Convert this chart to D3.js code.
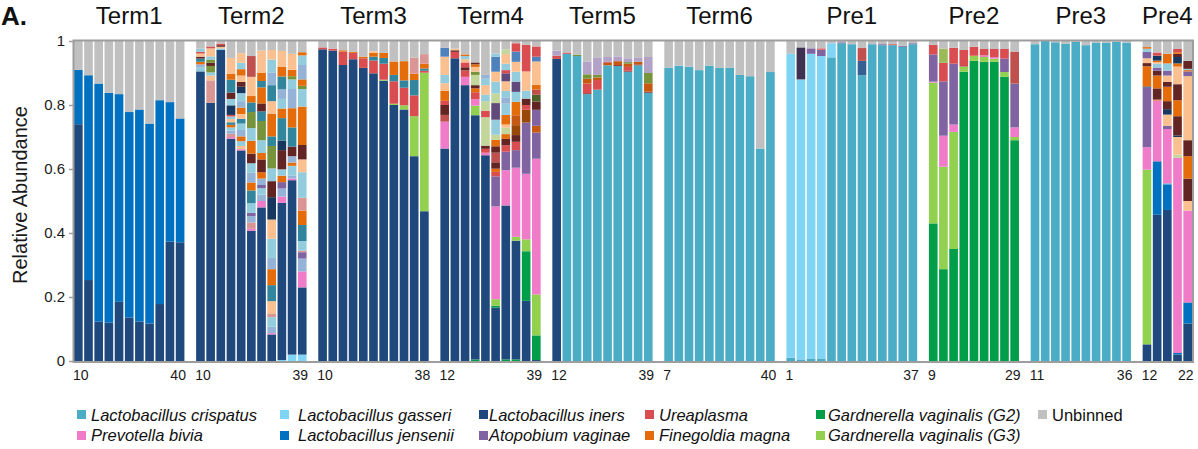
<!DOCTYPE html>
<html>
<head>
<meta charset="utf-8">
<script src="https://cdn.jsdelivr.net/npm/d3@7"></script>
<style>
  body { margin: 0; background: #fff; }
  svg { display: block; font-family: "Liberation Sans", Arial, Helvetica, sans-serif; }
</style>
</head>
<body>
<div id="chart"></div>
<script>
// panels and the sample numbers printed under each one
const panels = ["Term1", "Term2", "Term3", "Term4", "Term5", "Term6", "Pre1", "Pre2", "Pre3", "Pre4"];
const tickFirst = [10, 10, 10, 12, 12, 7, 1, 9, 11, 12];
const tickLast = [40, 39, 38, 39, 39, 40, 37, 29, 36, 22];

// taxa keys and their colours
const taxonKeys = ["cr", "ga", "in", "je", "pk", "pu", "ur", "fi", "g2", "g3",
  "pe", "lb", "st", "td", "ol", "db", "sa", "dn", "li", "lm", "rs", "br",
  "dp", "vp", "mb", "sb", "dg", "rd", "dr", "yg", "un"];
const taxonColors = ["#4bacc6", "#80d5f5", "#1f497d", "#0070c0", "#ef7bc9", "#8064a2", "#d94c50", "#e46c0a", "#009e49", "#92d050",
  "#fac090", "#93cddd", "#95b3d7", "#31859c", "#77933c", "#632523", "#d99694", "#17375e", "#b3a2c7", "#c3d69b", "#c65911", "#984807",
  "#3f3151", "#604a7b", "#4f81bd", "#376092", "#4f6228", "#c0504d", "#953735", "#9bbb59", "#c0c0c0"];

// legend (row 1 then row 2)
const legendKeys = ["cr", "ga", "in", "ur", "g2", "un", "pk", "je", "pu", "fi", "g3"];
const legendLabels = ["Lactobacillus crispatus", "Lactobacillus gasseri", "Lactobacillus iners", "Ureaplasma",
  "Gardnerella vaginalis (G2)", "Unbinned", "Prevotella bivia", "Lactobacillus jensenii", "Atopobium vaginae",
  "Finegoldia magna", "Gardnerella vaginalis (G3)"];

// each bar: taxon / relative abundance pairs from the bottom up, unbinned fills the rest
const term1 = [
  "in .74 je .17", "in .253 je .64", "in .123 je .744", "in .12 je .718", "in .185 je .649", "in .136 je .642",
  "in .123 je .663", "in .117 je .625", "in .178 je .637", "in .373 je .436", "in .371 je .387"];
const term2 = [
  "in .905 lb .012 st .01 fi .008 td .01 db .006 pe .01 ur .005 lb .01",
  "in .807 sa .07 pe .015 lb .01 ol .02 db .01 ol .01 lb .01 pe .025 ur .006",
  "in .972 lb .005 pe .005 db .005 ur .005",
  "in .695 pk .005 sa .01 st .01 lb .01 fi .008 td .008 pe .01 lb .008 ur .005 dn .03 lb .02 db .02 td .04 fi .018 pe .05",
  "in .658 pk .004 pe .01 lb .015 fi .015 st .02 lb .02 td .015 pe .015 fi .02 st .02 lb .025 dn .02 db .015 pe .02 fi .02 lb .02 pe .03",
  "in .407 pk .006 sa .02 st .02 pu .01 lb .03 td .04 fi .025 st .03 lb .03 db .03 fi .04 lb .04 ol .05 td .03 fi .02 pe .06 rd .065",
  "in .48 pk .02 st .02 lb .02 pu .01 st .02 fi .02 db .04 fi .02 lb .04 ol .06 td .03 db .025 fi .05 td .02 fi .025 pe .07",
  "in .083 pk .004 st .02 lb .03 sa .01 pe .04 td .05 fi .05 st .035 lb .06 pe .06 dn .07 db .05 lb .04 ol .07 td .03 fi .07 pe .04 td .05 st .04 lb .04 pe .03",
  "ga .003 in .491 pk .02 st .025 pu .02 fi .02 lb .02 db .06 dn .03 td .07 fi .03 lb .03 st .03 td .04 fi .03 pe .05",
  "ga .02 in .545 pk .005 st .01 lb .03 fi .01 st .02 db .03 td .06 fi .06 st .06 lb .03 ol .01 fi .02 pe .05",
  "ga .02 in .21 pk .05 st .04 pu .02 sa .005 lb .03 td .05 fi .045 sa .04 lb .08 pe .04 db .045 fi .12 lb .055 ol .01 fi .02 st .045 lb .03 fi .01"];
const term3 = [
  "in .974 ur .006", "in .97 ur .006", "in .925 ur .042 fi .004", "in .943 ur .02 fi .003", "in .916 ur .03 fi .005",
  "in .899 ur .04 td .012 fi .012 pe .005",
  "in .876 g3 .003 ur .05 td .018 fi .016",
  "in .80 g3 .004 ur .07 td .02 fi .042",
  "in .786 g3 .013 ur .055 td .023 fi .06",
  "in .64 g3 .125 ur .065 td .048 fi .02 sa .05",
  "in .468 g3 .433 ur .006 td .007 fi .015 sa .03"];
const term4 = [
  "in .664 pk .084 rd .021 db .031 ur .013 fi .032 pe .023 lb .026 pe .057 mb .028",
  "in .946 ur .02 db .005 pe .005",
  "in .862 pk .026 ur .02 db .01 ur .015 pe .01 lb .01 fi .005",
  "g2 .005 in .763 g3 .03 pk .02 ur .022 fi .012 db .01 lm .032 ol .01 pe .015 fi .008 db .006",
  "in .643 pk .008 ur .012 db .01 lm .089 ur .02 lm .03 lb .02 pe .03 lb .02 st .012",
  "in .167 g2 .006 g3 .02 pk .29 pu .094 ur .014 fi .01 db .02 rd .03 db .02 fi .02 lm .016 lb .047 vp .052 lm .03 lb .037 pe .031 mb .047 lb .01",
  "g2 .005 in .481 pk .11 pu .058 ur .02 db .02 fi .015 lm .02 pe .01 fi .03 lb .035 st .02 lb .02 pe .03 vp .025 ur .01 lb .02 pe .03 lm .015",
  "g2 .005 in .371 g3 .012 pk .216 pu .055 ur .026 db .021 br .031 rs .031 fi .042 lb .031 vp .032 lb .031 pe .031 mb .032 ur .026",
  "in .188 g2 .155 g3 .037 pk .205 pu .16 br .04 ur .015 db .02 lb .025 pe .06 ur .083",
  "in .003 g2 .077 g3 .128 pk .424 pu .082 rs .021 pu .05 db .026 dg .021 rd .016 fi .015 pe .073 mb .015 ur .032"];
const term5 = [
  "in .944 ur .01 li .016", "cr .96 ur .004", "cr .953 ol .004",
  "cr .834 dr .003 ur .03 rs .015 ol .014 li .04",
  "cr .848 ur .03 rs .008 ol .008 li .055",
  "cr .924 rs .008 ur .003 li .015",
  "cr .922 dr .003 rs .012 li .015",
  "cr .904 dr .003 ur .012 rs .01 ol .005 li .012",
  "cr .924 dr .003 rs .008 li .014",
  "cr .838 dr .004 rs .026 ol .032 li .05"];
const term6 = [
  "cr .917", "cr .923", "cr .92", "cr .909", "cr .923", "cr .916", "cr .916", "cr .894", "cr .89", "cr .664", "cr .903"];
const pre1 = [
  "cr .01 ga .95", "cr .005 ga .875 dp .10", "cr .008 ga .952 pu .017", "cr .008 ga .945 pu .02 ur .004",
  "cr .949 ga .044", "cr .993 pu .003", "cr .99", "cr .893 sb .045 rd .04", "cr .99", "cr .987 pu .003",
  "cr .987 ur .003", "cr .982 pu .003", "cr .99 pu .003"];
const pre2 = [
  "g2 .43 g3 .44 pk .003 pu .085 ur .03",
  "g2 .287 g3 .32 pk .097 pu .17 ur .058 yg .044",
  "g2 .35 g3 .366 pk .023 pu .19 ur .05",
  "g2 .904 g3 .016 rd .005 ur .047",
  "g2 .938 g3 .016 ur .028",
  "g2 .935 g3 .015 pk .005 ur .02",
  "g2 .935 g3 .01 pk .005 ur .025",
  "g2 .888 g3 .015 pu .042 ur .03",
  "g2 .69 g3 .01 pk .03 pu .137 rd .1"];
const pre3 = [
  "cr .99", "cr 1", "cr .996", "cr .992", "cr .997", "cr .987", "cr .995", "cr .995", "cr .998", "cr .995"];
const pre4 = [
  "in .052 g3 .546 pk .07 pu .187 dn .003 fi .063 db .01 pe .015 pu .02 lb .01 fi .005",
  "in .457 je .167 pk .19 fi .003 db .035 fi .04 db .015 pu .01 lb .012 pe .005 fi .005 dn .015 ur .01",
  "in .472 je .08 cr .003 pk .17 pu .01 pe .035 dn .017 db .025 fi .045 db .015 pe .02 pu .015 lb .023 fi .03",
  "in .02 je .005 pk .61 lm .01 pe .055 dn .005 db .06 fi .05 db .05 pe .055 fi .01 dn .02 db .01 fi .005 ur .01",
  "in .117 je .066 pk .287 pe .03 db .07 fi .07 db .05 pe .2 pu .015 fi .004 lb .004 db .025"];

const panelBars = [term1, term2, term3, term4, term5, term6, pre1, pre2, pre3, pre4];

const color = d3.scaleOrdinal().domain(taxonKeys).range(taxonColors);

const svg = d3.select("#chart").append("svg")
  .attr("width", 1198)
  .attr("height", 449);

// one band per bar, plus an empty band between panels
const slots = [];
panels.forEach((p, pi) => {
  panelBars[pi].forEach((b, bi) => slots.push(p + "-" + bi));
  if (pi < panels.length - 1) slots.push("gap-" + pi);
});

const x = d3.scaleBand().domain(slots).range([74, 1192]).paddingInner(0.15).paddingOuter(0);
const y = d3.scaleLinear().domain([0, 1]).range([361, 41]);

function parseBar(str) {
  const t = str.trim().split(/\s+/);
  const segs = [];
  let acc = 0;
  for (let i = 0; i < t.length; i += 2) {
    const v = +t[i + 1];
    segs.push({ key: t[i], y0: acc, y1: acc + v });
    acc += v;
  }
  if (acc < 1) segs.push({ key: "un", y0: acc, y1: 1 });
  return segs;
}

const barsG = svg.append("g");
panels.forEach((p, pi) => {
  panelBars[pi].forEach((b, bi) => {
    barsG.append("g")
      .selectAll("rect")
      .data(parseBar(b))
      .join("rect")
      .attr("x", x(p + "-" + bi))
      .attr("width", x.bandwidth())
      .attr("y", d => y(Math.min(d.y1, 1)))
      .attr("height", d => y(d.y0) - y(Math.min(d.y1, 1)))
      .attr("fill", d => color(d.key));
  });
});

// frame
svg.append("rect")
  .attr("x", 73.5).attr("y", 40.5)
  .attr("width", 1193 - 73.5).attr("height", 362 - 40.5)
  .attr("fill", "none")
  .attr("stroke", "#9d9d9d")
  .attr("stroke-width", 2);

// y axis
const yAxis = svg.append("g")
  .attr("transform", "translate(73,0)")
  .call(d3.axisLeft(y).tickValues([0, 0.2, 0.4, 0.6, 0.8, 1]).tickFormat(d => String(d)).tickSize(4).tickPadding(4));
yAxis.select(".domain").remove();
yAxis.selectAll("line").attr("stroke", "#9d9d9d").attr("stroke-width", 1.5);
yAxis.selectAll("text").attr("font-size", 15).attr("fill", "#1a1a1a")
  .attr("font-family", "'Liberation Sans', Arial, sans-serif");

svg.append("text")
  .attr("transform", "translate(27,195) rotate(-90)")
  .attr("text-anchor", "middle")
  .attr("font-size", 20)
  .attr("fill", "#1a1a1a")
  .text("Relative Abundance");

svg.append("text")
  .attr("x", 1).attr("y", 25)
  .attr("font-size", 26)
  .attr("font-weight", "bold")
  .attr("fill", "#111")
  .text("A.");

// panel titles and first / last sample labels
panels.forEach((p, pi) => {
  const n = panelBars[pi].length;
  const xs = x(p + "-0");
  const xe = x(p + "-" + (n - 1)) + x.bandwidth();
  svg.append("text")
    .attr("x", (xs + xe) / 2).attr("y", 24)
    .attr("text-anchor", "middle")
    .attr("font-size", 24)
    .attr("fill", "#111")
    .text(p);
  svg.append("text")
    .attr("x", xs - 1).attr("y", 380)
    .attr("font-size", 14)
    .attr("fill", "#1a1a1a")
    .text(tickFirst[pi]);
  svg.append("text")
    .attr("x", xe + 1.5).attr("y", 380)
    .attr("text-anchor", "end")
    .attr("font-size", 14)
    .attr("fill", "#1a1a1a")
    .text(tickLast[pi]);
});

// legend
const swatchX = [77, 280, 479, 645, 816, 1038];
const textX = [91, 298, 489, 659, 828, 1052];
const leg = svg.append("g").selectAll("g")
  .data(legendKeys.map((k, i) => ({ key: k, label: legendLabels[i], col: i < 6 ? i : i - 6, row: i < 6 ? 0 : 1 })))
  .join("g");
leg.append("rect")
  .attr("x", d => swatchX[d.col])
  .attr("y", d => d.row === 0 ? 410 : 431)
  .attr("width", 9).attr("height", 9)
  .attr("fill", d => color(d.key));
leg.append("text")
  .attr("x", d => textX[d.col])
  .attr("y", d => d.row === 0 ? 421 : 441)
  .attr("font-size", 16.5)
  .attr("font-style", d => d.key === "un" ? "normal" : "italic")
  .attr("fill", "#111")
  .text(d => d.label);
</script>
</body>
</html>
